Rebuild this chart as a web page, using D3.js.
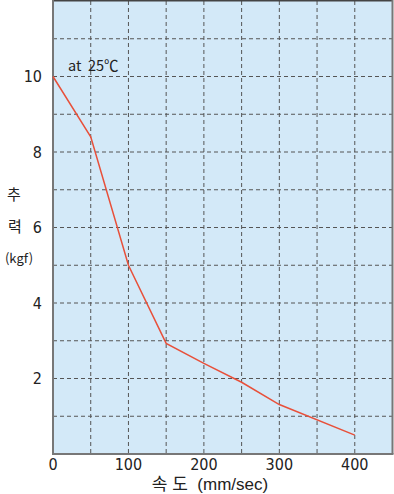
<!DOCTYPE html>
<html><head><meta charset="utf-8">
<script src="https://cdn.jsdelivr.net/npm/d3@7"></script>
<style>body{margin:0;background:#fff}svg{display:block}</style>
</head><body>
<svg id="c" width="394" height="494"></svg>
<script>
const speeds = [0, 50, 100, 150, 200, 250, 300, 400];
const forces = [10, 8.4, 5.0, 2.93, 2.4, 1.9, 1.31, 0.5];
const xTicks = [0, 100, 200, 300, 400];
const yTicks = [2, 4, 6, 8, 10];
const xGrid = d3.range(50, 450, 50);
const yGrid = d3.range(1, 12, 1);

const svg = d3.select("#c");
const L = 53, R = 392.5, T = 1, B = 454;
const x = d3.scaleLinear().domain([0, 450]).range([L, R]);
const y = d3.scaleLinear().domain([0, 12]).range([B, T]);
const numFont = "'Liberation Sans Narrow','DejaVu Sans Condensed',sans-serif";
const krFont = "'Noto Sans CJK KR',sans-serif";
const titleFont = "'Liberation Sans','Noto Sans CJK KR',sans-serif";

svg.append("rect").attr("x", L).attr("y", T).attr("width", R - L).attr("height", B - T).attr("fill", "#d3e9f8");

svg.append("g").selectAll("line").data(xGrid).join("line")
  .attr("x1", d => x(d)).attr("x2", d => x(d)).attr("y1", T).attr("y2", B)
  .attr("stroke", "#555").attr("stroke-width", 1).attr("stroke-dasharray", "4,3");
svg.append("g").selectAll("line").data(yGrid).join("line")
  .attr("y1", d => y(d)).attr("y2", d => y(d)).attr("x1", L).attr("x2", R)
  .attr("stroke", "#555").attr("stroke-width", 1).attr("stroke-dasharray", "4,3");

// border
svg.append("line").attr("x1", L).attr("x2", R).attr("y1", 0.5).attr("y2", 0.5).attr("stroke", "#444").attr("stroke-width", 2);
svg.append("line").attr("x1", L).attr("x2", L).attr("y1", 0).attr("y2", B).attr("stroke", "#777").attr("stroke-width", 2);
svg.append("line").attr("x1", L - 1).attr("x2", R + 1).attr("y1", B).attr("y2", B).attr("stroke", "#777").attr("stroke-width", 2);
svg.append("line").attr("x1", R).attr("x2", R).attr("y1", 0).attr("y2", B).attr("stroke", "#777").attr("stroke-width", 2);

svg.append("path").datum(speeds.map((s, i) => [s, forces[i]]))
  .attr("d", d3.line().x(d => x(d[0])).y(d => y(d[1])))
  .attr("fill", "none").attr("stroke", "#e8503a").attr("stroke-width", 1.5);

svg.append("g").selectAll("text").data(yTicks).join("text")
  .attr("x", 42).attr("y", d => y(d)).attr("dy", "0.36em").attr("text-anchor", "end")
  .attr("font-family", numFont).attr("font-size", 16).attr("fill", "#222").text(d => d);
svg.append("g").selectAll("text").data(xTicks).join("text")
  .attr("x", d => x(d)).attr("y", 470).attr("text-anchor", "middle")
  .attr("font-family", numFont).attr("font-size", 16).attr("fill", "#222").text(d => d);

svg.append("text").attr("x", 68).attr("y", 71).attr("font-family", krFont).attr("font-size", 14.5).attr("fill", "#222")
  .attr("xml:space", "preserve").style("white-space", "pre").text("at  25℃");

svg.append("text").attr("x", 14).attr("y", 200).attr("text-anchor", "middle").attr("font-family", krFont).attr("font-size", 15).attr("fill", "#222").text("추");
svg.append("text").attr("x", 15).attr("y", 232).attr("text-anchor", "middle").attr("font-family", krFont).attr("font-size", 15).attr("fill", "#222").text("력");
svg.append("text").attr("x", 19).attr("y", 263).attr("text-anchor", "middle").attr("font-family", krFont).attr("font-size", 13).attr("fill", "#222").text("(kgf)");

svg.append("text").attr("x", 210).attr("y", 490).attr("text-anchor", "middle").attr("font-family", titleFont).attr("font-size", 17).attr("fill", "#222")
  .style("white-space", "pre").text("속 도  (mm/sec)");
</script>
</body></html>
